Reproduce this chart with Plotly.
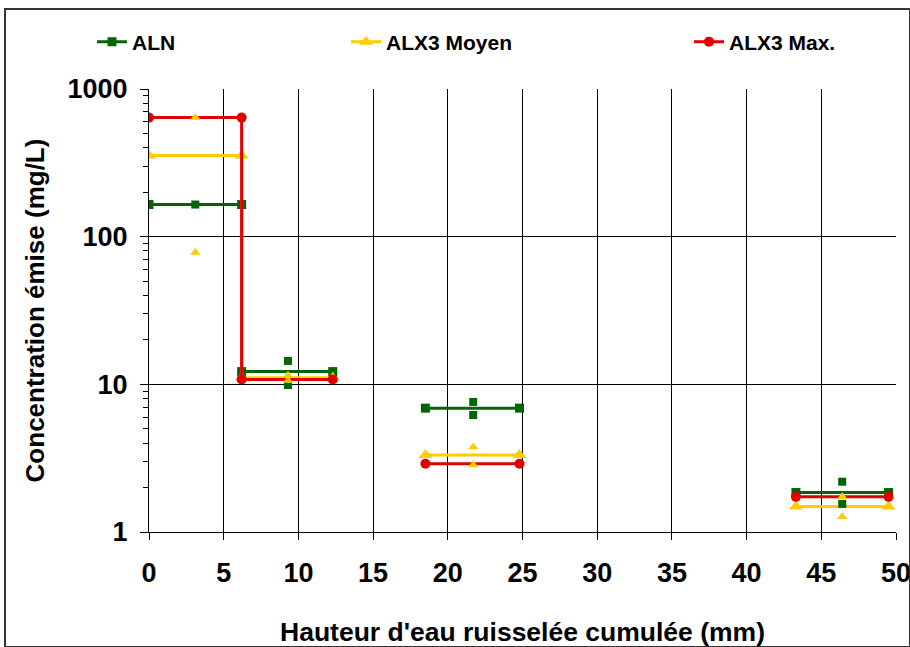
import plotly.graph_objects as go

# hauteur d'eau cumulee (mm) : debut / fin de chaque pluie, et milieu
x_debut = [0, 6.2, 18.5, 43.3]
x_fin = [6.2, 12.3, 24.8, 49.5]
x_milieu = [3.1, 9.3, 21.7, 46.4]

# concentrations moyennes par pluie (mg/L)
aln_moy = [165, 12.2, 6.9, 1.85]
alx3_moy = [355, 11.1, 3.32, 1.49]
alx3_max = [640, 10.8, 2.9, 1.73]

# valeurs individuelles (au milieu de chaque pluie)
aln_pts = [[165], [14.4, 9.9], [7.6, 6.2], [2.19, 1.55]]
alx3_pts = [[640, 78], [11.5, 10.6], [3.77, 2.84], [1.73, 1.27]]

noms = ['ALN', 'ALX3 Moyen', 'ALX3 Max.']
couleurs = ['#006600', '#FFCC00', '#E00000']
symboles = ['square', 'triangle-up', 'circle']
tailles = [9, 12, 10]
tailles_pts = [8, 9]

font_fam = 'Arial, Liberation Sans, sans-serif'


def paliers(valeurs):
    # premiere et deuxieme pluie reliees, les autres separees
    xs, ys = [], []
    for i in range(len(valeurs)):
        xs += [x_debut[i], x_fin[i]]
        ys += [valeurs[i], valeurs[i]]
        if i > 0:
            xs.append(None)
            ys.append(None)
    return xs, ys


def nuage(pts):
    xs, ys = [], []
    for i, p in enumerate(pts):
        for v in p:
            xs.append(x_milieu[i])
            ys.append(v)
    return xs, ys


fig = go.Figure()

series = [aln_moy, alx3_moy, alx3_max]
nuages = [aln_pts, alx3_pts]

for i in range(3):
    xs, ys = paliers(series[i])
    fig.add_trace(go.Scatter(
        x=xs, y=ys, name=noms[i], mode='lines+markers',
        line=dict(color=couleurs[i], width=3),
        marker=dict(symbol=symboles[i], size=tailles[i], color=couleurs[i]),
        legend='legend' if i == 0 else 'legend%d' % (i + 1),
    ))

# points individuels par dessus
for i in [0, 1]:
    xs, ys = nuage(nuages[i])
    fig.add_trace(go.Scatter(
        x=xs, y=ys, mode='markers', showlegend=False,
        marker=dict(symbol=symboles[i], size=tailles_pts[i], color=couleurs[i]),
    ))

leg = dict(orientation='h', xref='container', yref='container', y=1 - 42 / 647,
           yanchor='middle', xanchor='left', bgcolor='rgba(0,0,0,0)',
           font=dict(family=font_fam, size=21, color='black', weight='bold'))
fig.update_layout(
    legend=dict(leg, x=92 / 910),
    legend2=dict(leg, x=346 / 910),
    legend3=dict(leg, x=689 / 910),
)

# graduations secondaires du log
mineurs = [m * d for d in [1, 10, 100] for m in range(2, 10)]

fig.update_xaxes(
    range=[0, 50], dtick=5, tick0=0,
    showgrid=True, gridcolor='black', gridwidth=1,
    showline=True, linecolor='black', linewidth=1,
    ticks='outside', ticklen=7, tickcolor='black',
    ticklabelstandoff=10, ticklabeloverflow='allow',
    tickfont=dict(family=font_fam, size=27, color='black', weight='bold'),
    title=dict(text="Hauteur d'eau ruisselée cumulée (mm)", standoff=40,
               font=dict(family=font_fam, size=26.5, color='black', weight='bold')),
    zeroline=False,
)
fig.update_yaxes(
    type='log', range=[0, 3],
    tickvals=[1, 10, 100, 1000], ticktext=['1', '10', '100', '1000'],
    showgrid=True, gridcolor='black', gridwidth=1,
    showline=True, linecolor='black', linewidth=1,
    ticks='outside', ticklen=8, tickcolor='black',
    ticklabelstandoff=7,
    minor=dict(tickvals=mineurs, ticks='outside', ticklen=5, tickcolor='black', showgrid=False),
    tickfont=dict(family=font_fam, size=27, color='black', weight='bold'),
    title=dict(text='Concentration émise (mg/L)', standoff=15,
               font=dict(family=font_fam, size=26, color='black', weight='bold')),
    zeroline=False,
)

# cadre exterieur
fig.add_shape(type='rect', xref='paper', yref='paper',
              x0=-144 / 747, x1=14 / 747 + 1, y0=-115 / 443, y1=1 + 80 / 443,
              line=dict(color='#333333', width=2))

fig.update_layout(
    width=910, height=647,
    margin=dict(l=149, r=14, t=89, b=115, autoexpand=False),
    plot_bgcolor='white', paper_bgcolor='white',
)

# la page a une marge par defaut de 8px : on la supprime
fig.write_html('out.html', config={'displayModeBar': False},
               post_script="document.body.style.margin='0';")
